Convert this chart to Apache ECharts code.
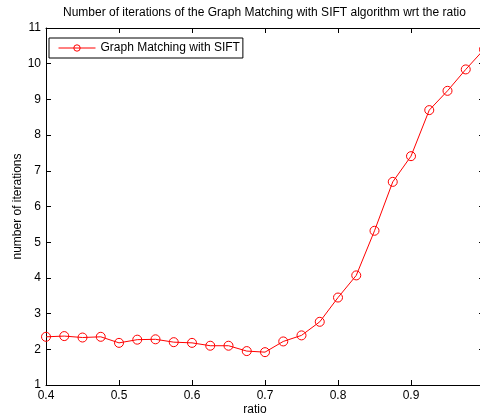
<!DOCTYPE html>
<html>
<head>
<meta charset="utf-8">
<script src="https://cdn.jsdelivr.net/npm/echarts@6/dist/echarts.min.js"></script>
<style>
html,body{margin:0;padding:0;background:#fff;}
#c{width:480px;height:414px;}
</style>
</head>
<body>
<div id="c"></div>
<script>
var titleText = 'Number of iterations of the Graph Matching with SIFT algorithm wrt the ratio';
var seriesName = 'Graph Matching with SIFT';
var xName = 'ratio';
var yName = 'number of iterations';
var ratio = [0.4, 0.425, 0.45, 0.475, 0.5, 0.525, 0.55, 0.575, 0.6, 0.625, 0.65, 0.675, 0.7,
             0.725, 0.75, 0.775, 0.8, 0.825, 0.85, 0.875, 0.9, 0.925, 0.95, 0.975, 1.0];
var iterations = [2.35, 2.37, 2.33, 2.35, 2.18, 2.27, 2.28, 2.20, 2.18, 2.10, 2.10, 1.95, 1.92,
                  2.22, 2.39, 2.77, 3.45, 4.07, 5.32, 6.69, 7.41, 8.70, 9.24, 9.84, 10.4];
var xRange = [0.4, 1.0];
var yRange = [1, 11];

var font = 'Liberation Sans, Arial, Helvetica, sans-serif';
var data = ratio.map(function (r, i) { return [r, iterations[i]]; });

var chart = echarts.init(document.getElementById('c'), null, {renderer: 'canvas'});
var axisCommon = {
  axisLine: {show: true, lineStyle: {color: '#000', width: 1}},
  axisTick: {show: true, inside: true, length: 5, lineStyle: {color: '#000'}},
  splitLine: {show: false}
};
chart.setOption({
  backgroundColor: '#fff',
  animation: false,
  title: {
    text: titleText,
    left: 63, top: 7, padding: 0,
    textStyle: {fontFamily: font, fontSize: 12, fontWeight: 'normal', color: '#000'}
  },
  legend: {
    data: [seriesName],
    left: 49, top: 38,
    padding: [4, 3, 4, 9],
    borderColor: '#000', borderWidth: 1,
    backgroundColor: '#fff',
    itemWidth: 37, itemHeight: 8,
    lineStyle: {width: 1},
    itemStyle: {borderWidth: 1},
    textStyle: {fontFamily: font, fontSize: 12, color: '#000'}
  },
  grid: {left: 46, top: 28, width: 438, height: 357, containLabel: false, outerBoundsMode: 'none'},
  xAxis: [
    Object.assign({
      type: 'value', position: 'bottom', min: xRange[0], max: xRange[1], interval: 0.1,
      name: xName, nameLocation: 'middle', nameGap: 19, nameMoveOverlap: false,
      nameTextStyle: {fontFamily: font, fontSize: 12, color: '#000', padding: [0, 20, 0, 0]},
      axisLabel: {margin: 5, fontFamily: font, fontSize: 12, color: '#000'}
    }, axisCommon),
    Object.assign({
      type: 'value', position: 'top', min: xRange[0], max: xRange[1], interval: 0.1,
      axisLabel: {show: false}
    }, axisCommon)
  ],
  yAxis: [
    Object.assign({
      type: 'value', position: 'left', min: yRange[0], max: yRange[1], interval: 1,
      name: yName, nameLocation: 'middle', nameGap: 22, nameMoveOverlap: false,
      nameTextStyle: {fontFamily: font, fontSize: 12, color: '#000'},
      axisLabel: {margin: 5, fontFamily: font, fontSize: 12, color: '#000'}
    }, axisCommon),
    Object.assign({
      type: 'value', position: 'right', min: yRange[0], max: yRange[1], interval: 1,
      axisLabel: {show: false}
    }, axisCommon)
  ],
  series: [{
    name: seriesName,
    type: 'line',
    xAxisIndex: 0, yAxisIndex: 0,
    data: data,
    symbol: 'circle',
    symbolSize: 9,
    lineStyle: {color: '#ff0000', width: 1},
    itemStyle: {color: 'rgba(255,255,255,0)', borderColor: '#ff0000', borderWidth: 1},
    emphasis: {disabled: true}
  }]
});
</script>
</body>
</html>
